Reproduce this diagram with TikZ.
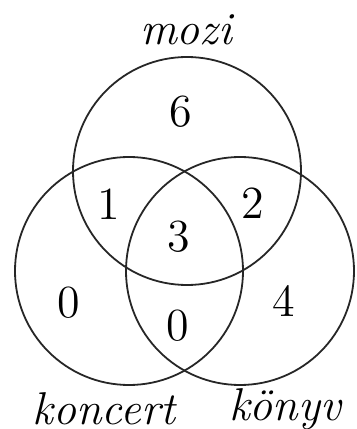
\documentclass[tikz,border=0pt]{standalone}
\usepackage{tikz}
\usetikzlibrary{positioning}

\begin{document}
\begin{tikzpicture}[
    x=0.25pt,y=0.25pt,
    set/.style={draw=black!85,line width=0.45pt,circle,minimum size=57pt,inner sep=0pt},
    num/.style={font=\fontsize{11.5}{14}\selectfont},
    lbl/.style={font=\fontsize{11.5}{14}\selectfont\itshape}
]
\useasboundingbox (0,0) rectangle (356,429);
\node[set] (M) at (187,258) {};
\node[set] (K) at (129,158) {};
\node[set] (B) at (240,158) {};

\node[lbl] (mozi) at (186,399) {mozi};
\node[lbl] (koncert) at (104,20) {koncert};
\node[lbl] (konyv) at (285,20) {könyv};

\node[num] (nM) at (181,317) {6};
\node[num] (nMK) at (109,225) {1};
\node[num] (nMB) at (253,226) {2};
\node[num] (nMKB) at (179,192) {3};
\node[num] (nK) at (69,126) {0};
\node[num] (nKB) at (178,103) {0};
\node[num] (nB) at (284,128) {4};
\end{tikzpicture}
\end{document}
